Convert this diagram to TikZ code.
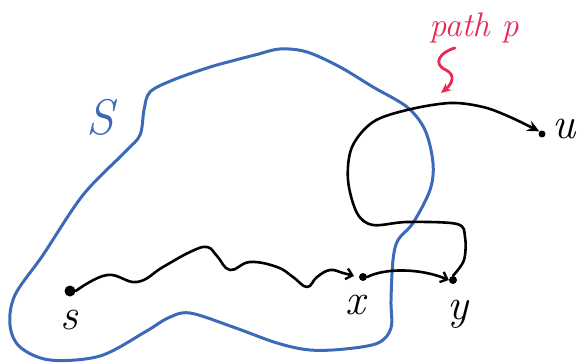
\documentclass[tikz,border=0pt]{standalone}
\usepackage{fontspec}
\usepackage{tikz}
\usetikzlibrary{arrows.meta}
\definecolor{setblue}{HTML}{3D6AB8}
\definecolor{notered}{HTML}{E62A55}
\tikzset{
  vertex/.style={circle, fill=black, inner sep=0pt, minimum size=#1},
  lbl/.style={inner sep=0pt, font=\fontsize{44}{44}\selectfont\itshape},
  ink/.style={draw=black, line width=2.6pt, line cap=round, line join=round},
  barb/.style={ink, -{Straight Barb[length=6pt, width=11pt, line width=2.4pt]}},
  headarrow/.style={ink, -{Stealth[length=12pt, width=11pt]}},
  border/.style={draw=setblue, line width=3pt, line cap=round},
  remark/.style={draw=notered, line width=2.8pt, line cap=round, -{Stealth[length=10pt, width=9pt]}}
}
\begin{document}
\begin{tikzpicture}[x=1pt, y=-1pt]
  \useasboundingbox (0,0) rectangle (582,364);

  % the set S
  \draw[border] plot[smooth cycle, tension=0.55] coordinates {
    (150,92) (173,80) (207,68) (228,62) (255,55) (280,49) (307,52) (340,67)
    (373,87) (407,107) (425,130) (433,163) (430,190) (413,223) (398,240)
    (393,260) (391,300) (391,328) (378,343) (345,349) (310,350) (277,343)
    (233,327) (190,313) (168,318) (145,332) (100,356) (50,360) (20,347)
    (10,325) (15,295) (43,255) (83,195) (125,152) (140,135) (144,110)};
  \node[lbl, text=setblue, font=\fontsize{50}{50}\selectfont\itshape] (setlbl) at (100,117) {S};

  % vertices
  \node[vertex=11pt] (s) at (70,291) {};
  \node[vertex=8pt] (x) at (363,277) {};
  \node[vertex=8pt] (y) at (453,280) {};
  \node[vertex=7pt] (u) at (542,134) {};
  \node[lbl] (slbl) at (69,320) {s};
  \node[lbl] (xlbl) at (355,305) {x};
  \node[lbl] (ylbl) at (458,314) {y};
  \node[lbl] (ulbl) at (564,129) {u};

  % s to x, wavy
  \draw[barb] plot[smooth, tension=0.7] coordinates {
    (s.east) (107,275) (137,282) (163,267) (190,252) (207,247) (217,256)
    (230,270) (250,262) (277,267) (293,277) (307,287) (317,277) (330,270)
    (343,273) (354,276)};

  % x to y
  \draw[barb] (x.east) .. controls (385,268) and (420,268) .. (y.west);

  % y around to u
  \draw[headarrow] plot[smooth, tension=0.55] coordinates {
    (y.north) (464,260) (465,237) (457,224) (407,222) (373,225) (357,213)
    (348,180) (352,147) (373,122) (407,110) (450,103) (483,107) (510,117)
    (u.north west)};

  % note on the path
  \node[lbl, text=notered, font=\fontsize{34}{34}\selectfont\itshape, anchor=base] (plbl) at (474,37) {path p};
  \coordinate (sq) at (455,48);
  \draw[remark] (sq) .. controls (440,52) and (432,64) .. (446,70)
    .. controls (456,75) and (452,84) .. (441,93);
\end{tikzpicture}
\end{document}
